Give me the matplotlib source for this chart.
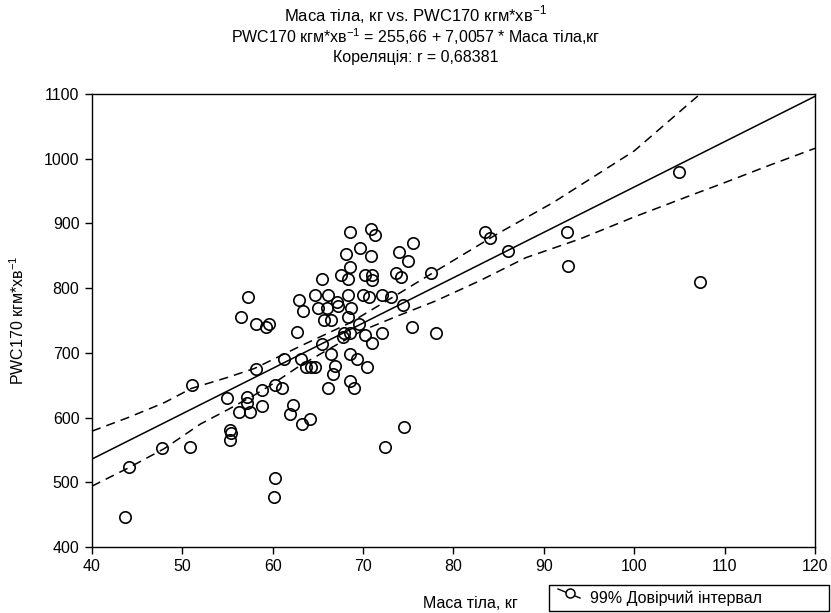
import numpy as np
import matplotlib
matplotlib.use("Agg")
import matplotlib.pyplot as plt
from matplotlib.lines import Line2D
from matplotlib.patches import Rectangle

plt.rcParams['font.family'] = ['Liberation Sans', 'DejaVu Sans']
plt.rcParams['mathtext.fontset'] = 'custom'
plt.rcParams['mathtext.rm'] = 'Liberation Sans'

# body mass (kg) and PWC170 (kgm/min) per subject
mass = [43.6, 44.1, 47.8, 50.8, 51.1, 54.9, 55.3, 55.4, 55.3, 56.3,
        56.5, 57.3, 57.2, 57.2, 57.5, 58.1, 58.1, 58.8, 58.8, 59.2,
        59.6, 60.2, 61.0, 60.3, 60.1, 61.2, 61.9, 62.2, 62.7, 62.9,
        63.3, 63.1, 63.2, 63.7, 64.2, 64.7, 64.1, 64.7, 65.0, 65.5,
        65.5, 65.7, 66.1, 66.0, 66.4, 66.4, 66.1, 66.7, 66.9, 67.1,
        67.2, 67.6, 67.9, 67.8, 68.1, 68.3, 68.3, 68.3, 68.5, 68.5,
        68.5, 68.5, 68.6, 69.0, 68.7, 69.3, 69.6, 69.7, 70.0, 70.6,
        70.2, 70.2, 70.4, 70.9, 71.3, 70.9, 71.0, 71.0, 71.0, 72.1,
        72.1, 72.4, 73.1, 73.6, 74.2, 74.0, 74.4, 74.5, 75.0, 75.4,
        75.5, 77.5, 78.1, 83.5, 84.0, 86.0, 92.6, 92.7, 104.9, 107.3]
pwc = [447, 523, 553, 555, 650, 630, 581, 576, 565, 608,
       755, 787, 631, 622, 608, 675, 745, 618, 643, 740,
       745, 651, 645, 506, 478, 690, 605, 620, 732, 782,
       765, 690, 590, 678, 678, 678, 597, 789, 769, 814,
       714, 750, 789, 770, 751, 698, 645, 668, 679, 778,
       772, 820, 731, 725, 852, 814, 789, 755, 886, 832,
       731, 698, 656, 645, 770, 690, 745, 862, 789, 786,
       820, 727, 678, 892, 882, 850, 820, 812, 715, 789,
       730, 555, 786, 823, 817, 856, 774, 585, 842, 740,
       869, 823, 730, 886, 877, 857, 887, 834, 979, 809]

# regression coefficients
b0 = 255.66
b1 = 7.0057

# 99% confidence band, upper and lower edges
ci_up_x = [40, 44, 48, 51, 55, 58, 63, 68.5, 74, 78, 85, 91, 100, 107.3]
ci_up_y = [579, 600, 623, 645, 662, 676, 710, 746, 792, 826, 885, 932, 1012, 1100]
ci_lo_x = [40, 44, 48, 52, 55, 58, 60, 63, 67, 70, 74, 78, 83, 88, 94, 100, 106, 110, 115, 120]
ci_lo_y = [494, 522, 552, 590, 612, 635, 652, 680, 712, 735, 758, 780, 812, 847, 876, 910, 942, 963, 990, 1016]

xs = np.array([40.0, 120.0])

fig = plt.figure(figsize=(8.31, 6.13), dpi=100)
ax = fig.add_axes([0.1107, 0.1077, 0.87, 0.739])

ax.plot(xs, b0 + b1 * xs, color='black', lw=1.1)
ax.plot(ci_up_x, ci_up_y, color='black', lw=1.1, ls=(0, (6, 4)))
ax.plot(ci_lo_x, ci_lo_y, color='black', lw=1.1, ls=(0, (6, 4)))
ax.plot(mass, pwc, 'o', ms=8.2, mfc='none', mec='black', mew=1.2)

ax.set_xlim(40, 120)
ax.set_ylim(400, 1100)
ax.set_xticks(np.arange(40, 121, 10))
ax.set_yticks(np.arange(400, 1101, 100))
ax.tick_params(direction='out', length=5, width=1, labelsize=11.5, pad=4)
for sp in ax.spines.values():
    sp.set_linewidth(1.0)

ax.set_ylabel(r'PWC170 кгм*хв$^{-1}$', fontsize=11.5, labelpad=12)

fs = 11.5
fig.text(0.5, 0.976, r'Маса тіла, кг vs. PWC170 кгм*хв$^{-1}$', ha='center', va='center', fontsize=12)
fig.text(0.5, 0.941, r'PWC170 кгм*хв$^{-1}$ = 255,66 + 7,0057 * Маса тіла,кг', ha='center', va='center', fontsize=fs)
fig.text(0.5, 0.907, 'Кореляція: r = 0,68381', ha='center', va='center', fontsize=fs)

# x label and the legend box sit on the bottom row
fig.text(470 / 831, 1 - 604 / 613, 'Маса тіла, кг', ha='center', va='center', fontsize=fs)

W, H = 831.0, 613.0
fig.patches.append(Rectangle((549 / W, 1 - 611 / H), 280 / W, 26 / H, transform=fig.transFigure,
                             fill=False, ec='black', lw=1.0))
fig.lines.append(Line2D([558 / W, 580 / W], [1 - 589 / H, 1 - 598 / H], transform=fig.transFigure,
                        color='black', lw=1.0))
fig.lines.append(Line2D([570 / W], [1 - 593 / H], transform=fig.transFigure, marker='o', ms=6.5,
                        mfc='white', mec='black', mew=1.1, ls='none'))
fig.text(590 / W, 1 - 598 / H, '99% Довірчий інтервал', ha='left', va='center', fontsize=fs)

fig.savefig('out.png', dpi=100)
